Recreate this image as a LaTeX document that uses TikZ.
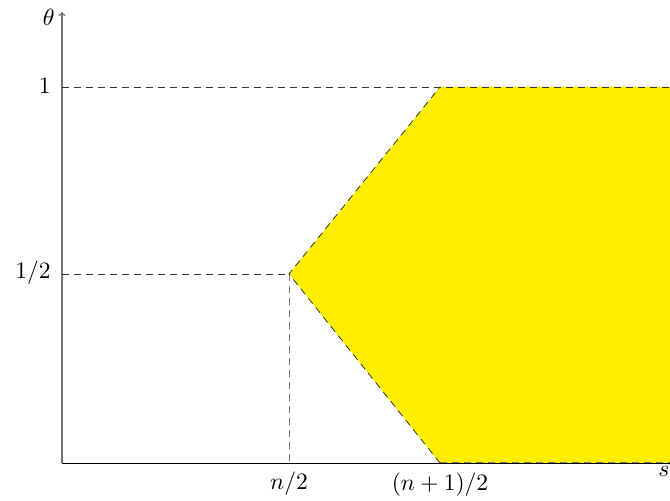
\documentclass[tikz,border=0pt]{standalone}
\usetikzlibrary{arrows.meta}
\definecolor{fillyellow}{HTML}{FFEE00}
\tikzset{
  guide/.style={dash pattern=on 7pt off 5pt, line width=0.8pt, black!80},
  guidegray/.style={dash pattern=on 7pt off 5pt, line width=1pt, black!55},
  lbl/.style={scale=2.35, inner sep=0pt},
}
\begin{document}
\begin{tikzpicture}[x=1pt,y=1pt]
\useasboundingbox (0,0) rectangle (670,501);
% coordinates
\coordinate (O) at (62,38);
\coordinate (Ytop) at (62,489);
\coordinate (Xend) at (690,38);
\coordinate (P) at (289,227);
\coordinate (Q) at (440,414);
\coordinate (R) at (670,414);
\coordinate (S) at (670,38);
\coordinate (T) at (440,38);
\coordinate (Y1) at (62,414);
\coordinate (Yh) at (62,227);
\coordinate (Xn) at (289,38);
% filled region
\fill[fillyellow] (P) -- (Q) -- (R) -- (S) -- (T) -- cycle;
% axes
\draw[line width=0.8pt, black] (O) -- (Xend);
\draw[line width=1.3pt, black!55, -{To[length=4pt,width=7pt]}] (O) -- (Ytop);
% guides
\draw[guide] (Y1) -- (R);
\draw[guide] (Yh) -- (P);
\draw[guidegray] (P) -- (Xn);
\draw[guide] (T) -- (P) -- (Q);
\draw[guidegray] (T) -- (S);
% labels
\node[lbl, anchor=east] (l1) at (51,415) {$1$};
\node[lbl, anchor=east] (lh) at (51,228) {$1/2$};
\node[lbl, anchor=east] (lt) at (55,484) {$\theta$};
\node[lbl] (ln) at (289,17) {$n/2$};
\node[lbl] (lm) at (440,16) {$(n+1)/2$};
\node[lbl] (ls) at (664,30) {$s$};
\end{tikzpicture}
\end{document}
